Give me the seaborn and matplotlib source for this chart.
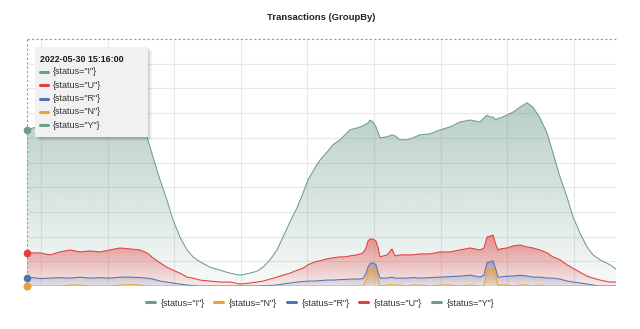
import numpy as np
import pandas as pd
import matplotlib
matplotlib.use("Agg")
import matplotlib.pyplot as plt
from matplotlib.lines import Line2D
from matplotlib.patches import Rectangle
from matplotlib.colors import to_rgb
import seaborn as sns

# ---------------- data ----------------
t = [0, 6, 13, 23, 33, 43, 53, 63, 73, 83, 93, 103, 113, 120,
     126, 133, 140, 146, 153, 160, 166, 173, 183, 193, 203, 213, 223, 230,
     236, 243, 250, 256, 263, 270, 276, 281, 288, 293, 300, 306, 313, 318,
     323, 330, 336, 339, 341, 343, 346, 349, 351, 353, 360, 365, 368, 373,
     380, 386, 393, 403, 413, 423, 433, 443, 453, 457, 460, 463, 466, 469,
     471, 473, 480, 486, 493, 500, 506, 513, 520, 526, 533, 540, 546, 553,
     560, 566, 573, 583, 589]

status_I = [316, 320, 322, 324, 326, 324, 328, 326, 328, 326, 328, 324, 316, 302,
            261, 215, 174, 134, 99, 73, 59, 49, 38, 32, 26, 22, 26, 30,
            38, 53, 73, 99, 130, 158, 188, 215, 239, 255, 271, 286, 296, 306,
            316, 320, 324, 328, 330, 336, 332, 322, 312, 300, 302, 306, 304, 296,
            296, 300, 306, 308, 316, 322, 332, 336, 332, 340, 346, 342, 342, 336,
            340, 340, 346, 352, 362, 371, 362, 340, 310, 269, 221, 180, 140, 107,
            79, 63, 53, 43, 34]
status_U = [67, 67, 67, 63, 69, 73, 69, 71, 69, 73, 77, 75, 73, 67,
            57, 47, 38, 32, 26, 18, 16, 12, 10, 8, 8, 4, 6, 8,
            10, 14, 18, 22, 26, 32, 36, 43, 49, 51, 55, 57, 59, 59,
            61, 63, 67, 77, 91, 95, 95, 91, 79, 59, 63, 75, 61, 63,
            63, 63, 65, 65, 69, 69, 73, 77, 73, 77, 99, 101, 103, 83,
            73, 75, 77, 81, 83, 79, 77, 73, 67, 59, 53, 43, 36, 28,
            20, 16, 12, 8, 8]
status_R = [16, 17, 15, 16, 17, 16, 18, 16, 17, 16, 18, 18, 17, 16,
            14, 10, 8, 6, 4, 2, 1, 0, 0, 0, 0, 0, 0, 0,
            1, 1, 2, 4, 6, 8, 9, 10, 10, 11, 12, 12, 13, 13,
            14, 14, 15, 26, 38, 45, 47, 43, 28, 16, 16, 18, 16, 16,
            16, 17, 16, 17, 18, 19, 20, 22, 18, 22, 47, 49, 51, 32,
            18, 18, 20, 20, 22, 20, 18, 18, 16, 16, 14, 10, 8, 6,
            4, 2, 0, 0, 0]
status_N = [0, 0, 0, 0, 0, 2, 2, 0, 0, 0, 2, 3, 2, 0,
            0, 0, 0, 0, 0, 0, 0, 0, 0, 0, 0, 0, 0, 0,
            0, 0, 0, 0, 0, 0, 0, 0, 0, 0, 0, 0, 0, 0,
            0, 0, 0, 12, 28, 34, 36, 32, 16, 0, 2, 3, 2, 2,
            0, 2, 2, 0, 2, 2, 0, 2, 0, 0, 32, 36, 36, 22,
            0, 2, 2, 0, 2, 2, 0, 2, 0, 0, 0, 0, 0, 0,
            0, 0, 0, 0, 0]
status_Y = [0] * len(t)

labels = ['{status="I"}', '{status="N"}', '{status="R"}', '{status="U"}', '{status="Y"}']
tooltip_order = ['{status="I"}', '{status="U"}', '{status="R"}', '{status="N"}', '{status="Y"}']
title = "Transactions (GroupBy)"
tooltip_time = "2022-05-30 15:16:00"

colors = {
    '{status="I"}': "#6f9e88",
    '{status="N"}': "#eea236",
    '{status="R"}': "#4f74b5",
    '{status="U"}': "#e0403f",
    '{status="Y"}': "#6f9e88",
}
series = {
    '{status="I"}': status_I,
    '{status="N"}': status_N,
    '{status="R"}': status_R,
    '{status="U"}': status_U,
    '{status="Y"}': status_Y,
}

df = pd.concat([pd.DataFrame({"t": t, "value": v, "status": k}) for k, v in series.items()],
               ignore_index=True)

# ---------------- figure ----------------
sns.set_style("white")
plt.rcParams["font.family"] = ["Liberation Sans", "DejaVu Sans"]

fig = plt.figure(figsize=(6.4, 3.29), dpi=100)
ax = fig.add_axes([27 / 640, 43 / 329, 589 / 640, 247 / 329])

XMAX, YMAX = 589, 500


def gradient_fill(ax, x, y, color, a_top, a_bot, z):
    y = np.asarray(y, dtype=float)
    top = max(y.max(), 1)
    poly = ax.fill_between(x, 0, y, facecolor="none", edgecolor="none", zorder=z)
    path = poly.get_paths()[0]
    img = np.zeros((200, 1, 4))
    img[:, :, :3] = to_rgb(color)
    img[:, 0, 3] = np.linspace(a_bot, a_top, 200)
    im = ax.imshow(img, aspect="auto", extent=[min(x), max(x), 0, top],
                   origin="lower", zorder=z, interpolation="bilinear")
    im.set_clip_path(path, transform=ax.transData)


gradient_fill(ax, t, status_I, colors['{status="I"}'], 0.50, 0.05, 1)
gradient_fill(ax, t, status_U, colors['{status="U"}'], 0.55, 0.08, 2)
gradient_fill(ax, t, status_R, colors['{status="R"}'], 0.45, 0.08, 3)
gradient_fill(ax, t, status_N, colors['{status="N"}'], 0.60, 0.15, 4)

draw_order = ['{status="Y"}', '{status="I"}', '{status="U"}', '{status="R"}', '{status="N"}']
sns.lineplot(data=df, x="t", y="value", hue="status", hue_order=draw_order,
             palette=colors, linewidth=0.75, legend=False, ax=ax, zorder=5,
             estimator=None, sort=False)

# hover dots at first sample
for k in draw_order:
    ax.plot([t[0]], [series[k][0]], "o", color=colors[k], markersize=5.5,
            zorder=7, clip_on=False, markeredgewidth=0)

ax.set_xlim(0, XMAX)
ax.set_ylim(0, YMAX)
ax.set_xticks(np.arange(14, XMAX, 66.6))
ax.set_yticks(np.arange(50, YMAX, 50))
ax.grid(True, color="#e8e8e8", linewidth=0.8)
ax.set_axisbelow(True)
ax.tick_params(length=0, labelbottom=False, labelleft=False)
ax.set_xlabel("")
ax.set_ylabel("")
for s in ax.spines.values():
    s.set_visible(False)

# crosshair
ax.axvline(0, color="#9a9a9a", linewidth=0.8, linestyle=(0, (2, 2)), zorder=6, clip_on=False)
ax.axhline(YMAX, color="#9a9a9a", linewidth=0.8, linestyle=(0, (2, 2)), zorder=6, clip_on=False)

# title
fig.text(321 / 640, 1 - 18 / 329, title, ha="center", va="center",
         fontsize=6.8, fontweight="bold", color="#222222")

# tooltip box (figure pixel coordinates)
W, H = 640, 329
bx0, bx1, by0, by1 = 35, 148, 47, 137
for i, a in enumerate([0.05, 0.05, 0.05, 0.04]):
    off = 1 + i
    fig.patches.append(Rectangle(((bx0 + off) / W, 1 - (by1 + off) / H),
                                 (bx1 - bx0) / W, (by1 - by0) / H,
                                 transform=fig.transFigure, facecolor="black",
                                 edgecolor="none", alpha=a, zorder=20))
fig.patches.append(Rectangle((bx0 / W, 1 - by1 / H), (bx1 - bx0) / W, (by1 - by0) / H,
                             transform=fig.transFigure, facecolor="#f1f1f1",
                             edgecolor="none", zorder=21))
fig.text(40 / W, 1 - 59 / H, tooltip_time, ha="left", va="center", fontsize=6.4,
         fontweight="bold", color="#1a1a1a", zorder=22)
for i, k in enumerate(tooltip_order):
    yy = 1 - (72 + i * 13.3) / H
    fig.lines.append(Line2D([40 / W, 48 / W], [yy, yy], transform=fig.transFigure,
                            color=colors[k], linewidth=2.2, zorder=22))
    fig.text(53 / W, yy, k, ha="left", va="center", fontsize=6.5, color="#333333", zorder=22)

# legend
handles = [Line2D([0], [0], color=colors[k], linewidth=2.2) for k in labels]
fig.legend(handles, labels, loc="center", bbox_to_anchor=(320 / W, 1 - 303 / H), ncol=5,
           frameon=False, fontsize=6.5, handlelength=1.0, handletextpad=0.6,
           columnspacing=1.1, labelcolor="#333333")

fig.savefig("out.png", dpi=100)
